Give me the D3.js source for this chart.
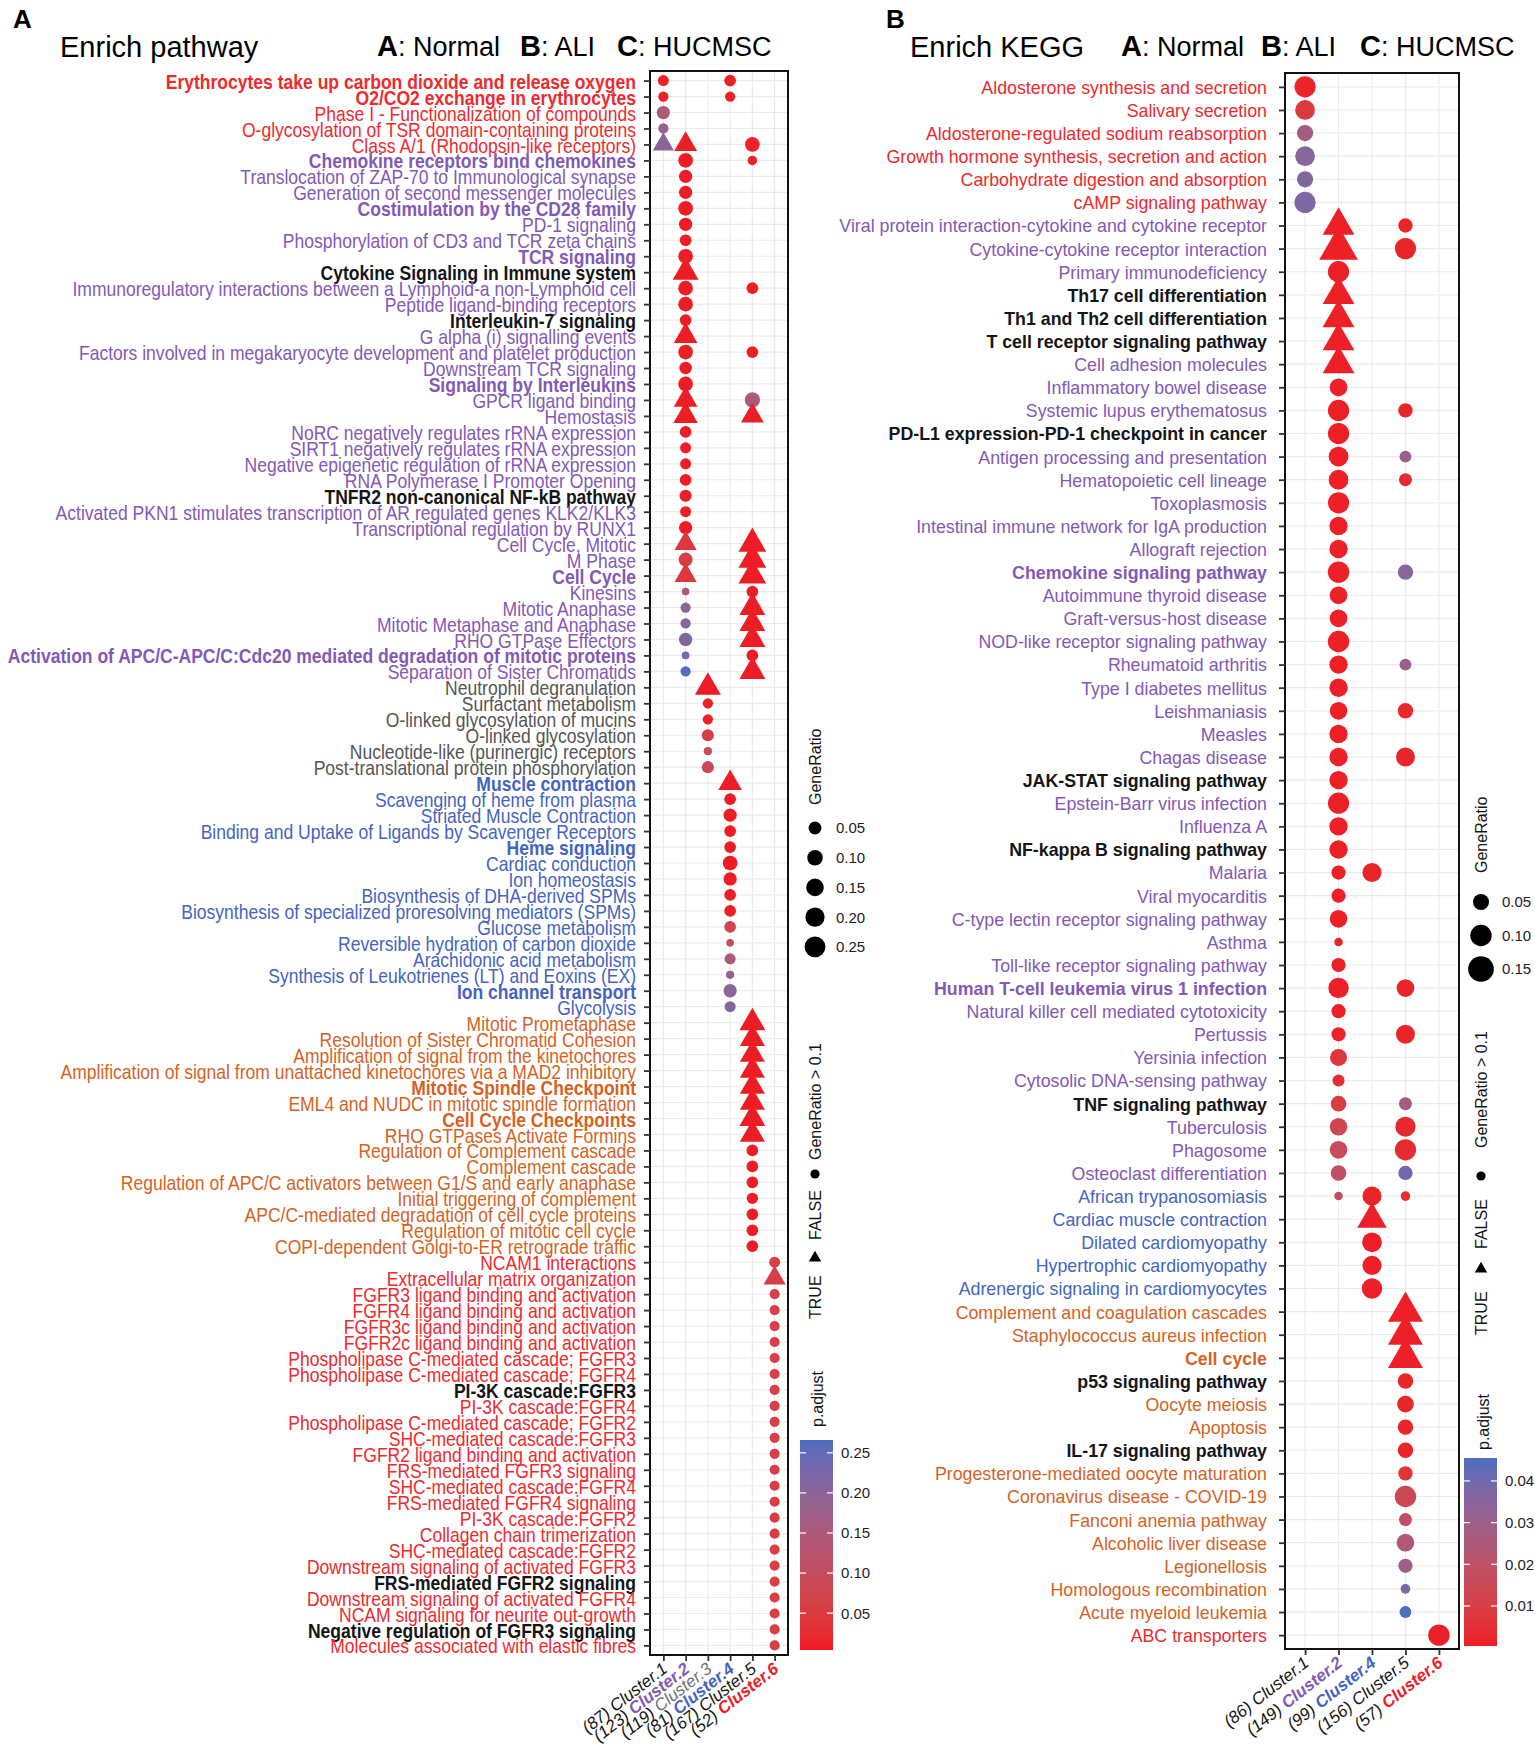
<!DOCTYPE html>
<html>
<head>
<meta charset="utf-8">
<script src="https://cdn.jsdelivr.net/npm/d3@7"></script>
<style>
  body { margin: 0; background: #fff; }
  svg text { font-family: "Liberation Sans", Arial, Helvetica, sans-serif; }
</style>
</head>
<body>
<svg id="chart" width="1535" height="1752"></svg>
<script>
// ---------- data: panel A (Reactome pathways) ----------
const pathwayTerms = [
  "Erythrocytes take up carbon dioxide and release oxygen",
  "O2/CO2 exchange in erythrocytes",
  "Phase I - Functionalization of compounds",
  "O-glycosylation of TSR domain-containing proteins",
  "Class A/1 (Rhodopsin-like receptors)",
  "Chemokine receptors bind chemokines",
  "Translocation of ZAP-70 to Immunological synapse",
  "Generation of second messenger molecules",
  "Costimulation by the CD28 family",
  "PD-1 signaling",
  "Phosphorylation of CD3 and TCR zeta chains",
  "TCR signaling",
  "Cytokine Signaling in Immune system",
  "Immunoregulatory interactions between a Lymphoid-a non-Lymphoid cell",
  "Peptide ligand-binding receptors",
  "Interleukin-7 signaling",
  "G alpha (i) signalling events",
  "Factors involved in megakaryocyte development and platelet production",
  "Downstream TCR signaling",
  "Signaling by Interleukins",
  "GPCR ligand binding",
  "Hemostasis",
  "NoRC negatively regulates rRNA expression",
  "SIRT1 negatively regulates rRNA expression",
  "Negative epigenetic regulation of rRNA expression",
  "RNA Polymerase I Promoter Opening",
  "TNFR2 non-canonical NF-kB pathway",
  "Activated PKN1 stimulates transcription of AR regulated genes KLK2/KLK3",
  "Transcriptional regulation by RUNX1",
  "Cell Cycle, Mitotic",
  "M Phase",
  "Cell Cycle",
  "Kinesins",
  "Mitotic Anaphase",
  "Mitotic Metaphase and Anaphase",
  "RHO GTPase Effectors",
  "Activation of APC/C-APC/C:Cdc20 mediated degradation of mitotic proteins",
  "Separation of Sister Chromatids",
  "Neutrophil degranulation",
  "Surfactant metabolism",
  "O-linked glycosylation of mucins",
  "O-linked glycosylation",
  "Nucleotide-like (purinergic) receptors",
  "Post-translational protein phosphorylation",
  "Muscle contraction",
  "Scavenging of heme from plasma",
  "Striated Muscle Contraction",
  "Binding and Uptake of Ligands by Scavenger Receptors",
  "Heme signaling",
  "Cardiac conduction",
  "Ion homeostasis",
  "Biosynthesis of DHA-derived SPMs",
  "Biosynthesis of specialized proresolving mediators (SPMs)",
  "Glucose metabolism",
  "Reversible hydration of carbon dioxide",
  "Arachidonic acid metabolism",
  "Synthesis of Leukotrienes (LT) and Eoxins (EX)",
  "Ion channel transport",
  "Glycolysis",
  "Mitotic Prometaphase",
  "Resolution of Sister Chromatid Cohesion",
  "Amplification of signal from the kinetochores",
  "Amplification  of signal from unattached  kinetochores via a MAD2  inhibitory",
  "Mitotic Spindle Checkpoint",
  "EML4 and NUDC in mitotic spindle formation",
  "Cell Cycle Checkpoints",
  "RHO GTPases Activate Formins",
  "Regulation of Complement cascade",
  "Complement cascade",
  "Regulation of APC/C activators between G1/S and early anaphase",
  "Initial triggering of complement",
  "APC/C-mediated degradation of cell cycle proteins",
  "Regulation of mitotic cell cycle",
  "COPI-dependent Golgi-to-ER retrograde traffic",
  "NCAM1 interactions",
  "Extracellular matrix organization",
  "FGFR3 ligand binding and activation",
  "FGFR4 ligand binding and activation",
  "FGFR3c ligand binding and activation",
  "FGFR2c ligand binding and activation",
  "Phospholipase C-mediated cascade; FGFR3",
  "Phospholipase C-mediated cascade; FGFR4",
  "PI-3K cascade:FGFR3",
  "PI-3K cascade:FGFR4",
  "Phospholipase C-mediated cascade; FGFR2",
  "SHC-mediated cascade:FGFR3",
  "FGFR2 ligand binding and activation",
  "FRS-mediated FGFR3 signaling",
  "SHC-mediated cascade:FGFR4",
  "FRS-mediated FGFR4 signaling",
  "PI-3K cascade:FGFR2",
  "Collagen chain trimerization",
  "SHC-mediated cascade:FGFR2",
  "Downstream signaling of activated FGFR3",
  "FRS-mediated FGFR2 signaling",
  "Downstream signaling of activated FGFR4",
  "NCAM signaling for neurite out-growth",
  "Negative regulation of FGFR3 signaling",
  "Molecules associated with elastic fibres"
];
// cluster a term is specific to (0 = shared)
const pathwayGroup = [
  1,1,1,1,1,
  2,2,2,2,2,2,2,0,2,2,0,2,2,2,2,2,2,2,2,2,2,0,2,2,2,2,2,2,2,2,2,2,2,
  3,3,3,3,3,3,
  4,4,4,4,4,4,4,4,4,4,4,4,4,4,4,
  5,5,5,5,5,5,5,5,5,5,5,5,5,5,5,
  6,6,6,6,6,6,6,6,0,6,6,6,6,6,6,6,6,6,6,6,0,6,6,0,6
];
const pathwayBold = [1,2,6,9,12,13,16,20,27,32,37,45,49,58,64,66,83,95,98];
const pathwayClusters = [1,2,3,4,5,6];
const pathwayCounts = [87,123,119,81,167,52];
// [term row, cluster, GeneRatio, p.adjust]
const pathwayDots = [
  [1,1,0.026,0.010],[1,4,0.034,0.010],
  [2,1,0.018,0.010],[2,4,0.018,0.010],
  [3,1,0.057,0.150],
  [4,1,0.018,0.180],
  [5,1,0.105,0.200],[5,2,0.137,0.008],[5,5,0.083,0.010],
  [6,2,0.083,0.006],[6,5,0.012,0.010],
  [7,2,0.057,0.005],
  [8,2,0.057,0.005],
  [9,2,0.083,0.005],
  [10,2,0.057,0.005],
  [11,2,0.034,0.005],
  [12,2,0.083,0.005],
  [13,2,0.200,0.005],
  [14,2,0.083,0.005],[14,5,0.034,0.008],
  [15,2,0.083,0.005],
  [16,2,0.034,0.005],
  [17,2,0.152,0.005],
  [18,2,0.083,0.005],[18,5,0.034,0.008],
  [19,2,0.045,0.005],
  [20,2,0.083,0.005],
  [21,2,0.152,0.005],[21,5,0.095,0.150],
  [22,2,0.168,0.005],[22,5,0.137,0.008],
  [23,2,0.034,0.005],
  [24,2,0.026,0.005],
  [25,2,0.026,0.005],
  [26,2,0.034,0.005],
  [27,2,0.040,0.005],
  [28,2,0.026,0.005],
  [29,2,0.057,0.005],
  [30,2,0.122,0.045],[30,5,0.245,0.005],
  [31,2,0.070,0.055],[31,5,0.245,0.005],
  [32,2,0.122,0.045],[32,5,0.245,0.005],
  [33,2,0.002,0.150],[33,5,0.034,0.005],
  [34,2,0.018,0.200],[34,5,0.200,0.005],
  [35,2,0.018,0.210],[35,5,0.200,0.005],
  [36,2,0.057,0.210],[36,5,0.200,0.005],
  [37,2,0.002,0.230],[37,5,0.034,0.005],
  [38,2,0.018,0.260],[38,5,0.200,0.005],
  [39,3,0.200,0.005],
  [40,3,0.018,0.008],
  [41,3,0.018,0.010],
  [42,3,0.040,0.060],
  [43,3,0.004,0.090],
  [44,3,0.040,0.090],
  [45,4,0.152,0.005],
  [46,4,0.034,0.005],
  [47,4,0.057,0.005],
  [48,4,0.034,0.005],
  [49,4,0.034,0.005],
  [50,4,0.083,0.005],
  [51,4,0.057,0.005],
  [52,4,0.034,0.005],
  [53,4,0.034,0.005],
  [54,4,0.034,0.080],
  [55,4,0.002,0.100],
  [56,4,0.026,0.150],
  [57,4,0.004,0.190],
  [58,4,0.057,0.200],
  [59,4,0.026,0.210],
  [60,5,0.200,0.005],
  [61,5,0.180,0.005],
  [62,5,0.180,0.005],
  [63,5,0.180,0.005],
  [64,5,0.180,0.005],
  [65,5,0.180,0.005],
  [66,5,0.200,0.005],
  [67,5,0.180,0.005],
  [68,5,0.034,0.005],
  [69,5,0.034,0.005],
  [70,5,0.034,0.005],
  [71,5,0.030,0.005],
  [72,5,0.034,0.005],
  [73,5,0.034,0.005],
  [74,5,0.034,0.005],
  [75,6,0.026,0.060],
  [76,6,0.122,0.060],
  [77,6,0.017,0.060],[78,6,0.017,0.060],[79,6,0.017,0.060],[80,6,0.017,0.060],
  [81,6,0.017,0.060],[82,6,0.017,0.060],[83,6,0.017,0.060],[84,6,0.017,0.060],
  [85,6,0.017,0.060],[86,6,0.017,0.060],[87,6,0.017,0.060],[88,6,0.017,0.060],
  [89,6,0.017,0.060],[90,6,0.017,0.060],[91,6,0.017,0.060],[92,6,0.017,0.060],
  [93,6,0.017,0.060],[94,6,0.017,0.060],[95,6,0.017,0.060],[96,6,0.017,0.060],
  [97,6,0.017,0.060],[98,6,0.017,0.060],[99,6,0.017,0.060]
];
const pathwaySizeBreaks = [0.05,0.10,0.15,0.20,0.25];
const pathwayColorBreaks = [0.05,0.10,0.15,0.20,0.25];

// ---------- data: panel B (KEGG) ----------
const keggTerms = [
  "Aldosterone synthesis and secretion",
  "Salivary secretion",
  "Aldosterone-regulated sodium reabsorption",
  "Growth hormone synthesis, secretion and action",
  "Carbohydrate digestion and absorption",
  "cAMP signaling pathway",
  "Viral protein interaction-cytokine and cytokine receptor",
  "Cytokine-cytokine receptor interaction",
  "Primary immunodeficiency",
  "Th17 cell differentiation",
  "Th1 and Th2 cell differentiation",
  "T cell receptor signaling pathway",
  "Cell adhesion molecules",
  "Inflammatory bowel disease",
  "Systemic lupus erythematosus",
  "PD-L1 expression-PD-1 checkpoint in cancer",
  "Antigen processing and presentation",
  "Hematopoietic cell lineage",
  "Toxoplasmosis",
  "Intestinal immune network for IgA production",
  "Allograft rejection",
  "Chemokine signaling pathway",
  "Autoimmune thyroid disease",
  "Graft-versus-host disease",
  "NOD-like receptor signaling pathway",
  "Rheumatoid arthritis",
  "Type I diabetes mellitus",
  "Leishmaniasis",
  "Measles",
  "Chagas disease",
  "JAK-STAT signaling pathway",
  "Epstein-Barr virus infection",
  "Influenza A",
  "NF-kappa B signaling pathway",
  "Malaria",
  "Viral myocarditis",
  "C-type lectin receptor signaling pathway",
  "Asthma",
  "Toll-like receptor signaling pathway",
  "Human T-cell leukemia virus 1 infection",
  "Natural killer cell mediated cytotoxicity",
  "Pertussis",
  "Yersinia infection",
  "Cytosolic DNA-sensing pathway",
  "TNF signaling pathway",
  "Tuberculosis",
  "Phagosome",
  "Osteoclast differentiation",
  "African trypanosomiasis",
  "Cardiac muscle contraction",
  "Dilated cardiomyopathy",
  "Hypertrophic cardiomyopathy",
  "Adrenergic signaling in cardiomyocytes",
  "Complement and coagulation cascades",
  "Staphylococcus aureus infection",
  "Cell cycle",
  "p53 signaling pathway",
  "Oocyte meiosis",
  "Apoptosis",
  "IL-17 signaling pathway",
  "Progesterone-mediated oocyte maturation",
  "Coronavirus disease - COVID-19",
  "Fanconi anemia pathway",
  "Alcoholic liver disease",
  "Legionellosis",
  "Homologous recombination",
  "Acute myeloid leukemia",
  "ABC transporters"
];
const keggGroup = [
  1,1,1,1,1,1,
  2,2,2,0,0,0,2,2,2,0,2,2,2,2,2,2,2,2,2,2,2,2,2,2,0,2,2,0,2,2,2,2,2,2,2,2,2,2,0,2,2,2,
  4,4,4,4,4,
  5,5,5,0,5,5,0,5,5,5,5,5,5,5,
  6
];
const keggBold = [10,11,12,16,22,31,34,40,45,56,57,60];
const keggClusters = [1,2,4,5,6];
const keggCounts = [86,149,99,156,57];
const keggDots = [
  [1,1,0.098,0.002],
  [2,1,0.083,0.008],
  [3,1,0.052,0.028],
  [4,1,0.083,0.035],
  [5,1,0.052,0.036],
  [6,1,0.098,0.037],
  [7,2,0.125,0.001],[7,5,0.037,0.002],
  [8,2,0.193,0.001],[8,5,0.098,0.002],
  [9,2,0.098,0.001],
  [10,2,0.125,0.001],
  [11,2,0.125,0.001],
  [12,2,0.125,0.001],
  [13,2,0.125,0.001],
  [14,2,0.064,0.001],
  [15,2,0.098,0.001],[15,5,0.037,0.002],
  [16,2,0.098,0.001],
  [17,2,0.083,0.001],[17,5,0.021,0.030],
  [18,2,0.083,0.001],[18,5,0.028,0.004],
  [19,2,0.098,0.001],
  [20,2,0.070,0.001],
  [21,2,0.070,0.001],
  [22,2,0.099,0.001],[22,5,0.045,0.035],
  [23,2,0.064,0.001],
  [24,2,0.064,0.001],
  [25,2,0.100,0.001],
  [26,2,0.070,0.001],[26,5,0.021,0.030],
  [27,2,0.070,0.001],
  [28,2,0.064,0.001],[28,5,0.045,0.003],
  [29,2,0.070,0.001],
  [30,2,0.070,0.001],[30,5,0.075,0.002],
  [31,2,0.070,0.001],
  [32,2,0.098,0.001],
  [33,2,0.070,0.001],
  [34,2,0.070,0.001],
  [35,2,0.036,0.001],[35,4,0.077,0.002],
  [36,2,0.036,0.001],
  [37,2,0.064,0.001],
  [38,2,0.004,0.002],
  [39,2,0.036,0.001],
  [40,2,0.090,0.001],[40,5,0.064,0.002],
  [41,2,0.036,0.001],
  [42,2,0.036,0.002],[42,5,0.075,0.002],
  [43,2,0.058,0.007],
  [44,2,0.022,0.004],
  [45,2,0.046,0.009],[45,5,0.028,0.028],
  [46,2,0.064,0.013],[46,5,0.087,0.003],
  [47,2,0.064,0.016],[47,5,0.098,0.004],
  [48,2,0.046,0.018],[48,5,0.037,0.040],
  [49,2,0.004,0.018],[49,4,0.077,0.002],[49,5,0.009,0.004],
  [50,4,0.105,0.001],
  [51,4,0.083,0.001],
  [52,4,0.077,0.001],
  [53,4,0.090,0.001],
  [54,5,0.154,0.001],
  [55,5,0.154,0.001],
  [56,5,0.154,0.001],
  [57,5,0.045,0.002],
  [58,5,0.055,0.002],
  [59,5,0.045,0.002],
  [60,5,0.045,0.002],
  [61,5,0.037,0.006],
  [62,5,0.100,0.014],
  [63,5,0.028,0.019],
  [64,5,0.064,0.024],
  [65,5,0.037,0.030],
  [66,5,0.009,0.037],
  [67,5,0.021,0.045],
  [68,6,0.100,0.001]
];
const keggSizeBreaks = [0.05,0.10,0.15];
const keggColorBreaks = [0.01,0.02,0.03,0.04];

// ---------- styles ----------
const svg = d3.select("#chart");
const termColor = {0: "#151515", 1: "#EE2A2E", 2: "#8359B5", 3: "#555555", 4: "#4564BF", 5: "#D4631F", 6: "#EE2A2E"};
const clusterStyle = {
  1: {fill: "#151515", weight: "normal"},
  2: {fill: "#8359B5", weight: "bold"},
  3: {fill: "#707070", weight: "normal"},
  4: {fill: "#4564BF", weight: "bold"},
  5: {fill: "#151515", weight: "normal"},
  6: {fill: "#EE2026", weight: "bold"}
};
const LOW = "#ED1C24", HIGH = "#4A6EC0";
const TRI_K = 1.555; // circumradius of a ggplot triangle relative to circle radius

function triPath(R) {
  const hx = R * Math.sqrt(3) / 2;
  return `M0,${-R}L${hx},${R / 2}L${-hx},${R / 2}Z`;
}
function circlePath(r) {
  return d3.symbol(d3.symbolCircle, Math.PI * r * r)();
}

function drawPanel(p) {
  const g = svg.append("g");
  const y = d3.scalePoint().domain(d3.range(p.terms.length)).range([p.top, p.bottom]).padding(0.6);
  const x = d3.scalePoint().domain(p.clusters).range([p.left, p.right]).padding(0.6);

  g.append("rect").attr("x", p.left).attr("y", p.top)
    .attr("width", p.right - p.left).attr("height", p.bottom - p.top).attr("fill", "#fff");
  g.selectAll("line.hg").data(y.domain()).join("line").attr("class", "hg")
    .attr("x1", p.left).attr("x2", p.right).attr("y1", d => y(d)).attr("y2", d => y(d))
    .attr("stroke", "#ebebeb").attr("stroke-width", 1.2);
  g.selectAll("line.vg").data(x.domain()).join("line").attr("class", "vg")
    .attr("y1", p.top).attr("y2", p.bottom).attr("x1", d => x(d)).attr("x2", d => x(d))
    .attr("stroke", "#ebebeb").attr("stroke-width", 1.2);

  g.selectAll("path.mark").data(p.dots).join("path").attr("class", "mark")
    .attr("transform", d => `translate(${x(d[1])},${y(d[0] - 1)})`)
    .attr("d", d => d[2] > 0.1 ? triPath(p.r(d[2]) * TRI_K) : circlePath(p.r(d[2])))
    .attr("fill", d => p.color(d[3]));

  g.append("rect").attr("x", p.left).attr("y", p.top)
    .attr("width", p.right - p.left).attr("height", p.bottom - p.top)
    .attr("fill", "none").attr("stroke", "#111").attr("stroke-width", 2);

  // y axis
  const ya = g.append("g").attr("transform", `translate(${p.left},0)`)
    .call(d3.axisLeft(y).tickSize(6).tickPadding(p.labelGap - 6).tickFormat(i => p.terms[i]));
  ya.select(".domain").remove();
  ya.selectAll(".tick line").attr("stroke", "#333").attr("stroke-width", 1.8);
  ya.selectAll(".tick text")
    .attr("font-family", '"Liberation Sans", Arial, sans-serif')
    .attr("font-size", p.labelSize)
    .attr("x", -p.labelGap / p.labelScaleX)
    .attr("dy", "0.36em")
    .attr("transform", `scale(${p.labelScaleX},1)`)
    .attr("fill", i => termColor[p.group[i]])
    .attr("font-weight", i => p.bold.includes(i + 1) ? "bold" : "normal");

  // x axis
  const xa = g.append("g").attr("transform", `translate(0,${p.bottom})`)
    .call(d3.axisBottom(x).tickSize(6).tickFormat(""));
  xa.select(".domain").remove();
  xa.selectAll(".tick line").attr("stroke", "#333").attr("stroke-width", 1.8);
  p.clusters.forEach((c, i) => {
    const t = g.append("text")
      .attr("transform", `translate(${x(c) + 5},${p.bottom + 16}) rotate(-38)`)
      .attr("text-anchor", "end").attr("font-style", "italic").attr("font-size", 17);
    t.append("tspan").attr("fill", "#151515").text(`(${p.counts[i]}) `);
    t.append("tspan").attr("fill", clusterStyle[c].fill).attr("font-weight", clusterStyle[c].weight)
      .text(`Cluster.${c}`);
  });

  // panel letter and header
  svg.append("text").attr("x", p.letterX).attr("y", 28).attr("font-size", 26)
    .attr("font-weight", "bold").text(p.letter);
  svg.append("text").attr("x", p.titleX).attr("y", 57).attr("font-size", 29).text(p.title);
  [["A", ": Normal"], ["B", ": ALI"], ["C", ": HUCMSC"]].forEach((k, i) => {
    const t = svg.append("text").attr("x", p.keyX[i]).attr("y", 56).attr("font-size", 27);
    t.append("tspan").attr("font-weight", "bold").attr("font-size", 29).text(k[0]);
    t.append("tspan").text(k[1]);
  });
}

function vtext(x, y, str, size) {
  return svg.append("text").attr("transform", `translate(${x},${y}) rotate(-90)`)
    .attr("font-size", size || 16).attr("fill", "#151515").text(str);
}

function drawLegend(p, L) {
  // size legend
  vtext(L.x + 6, L.sizeTitleY, "GeneRatio");
  p.sizeBreaks.forEach((b, i) => {
    const cy = L.sizeY0 + i * L.sizeStep;
    svg.append("path").attr("transform", `translate(${L.x},${cy})`)
      .attr("d", circlePath(p.r(b))).attr("fill", "#000");
    svg.append("text").attr("x", L.x + 21).attr("y", cy).attr("dy", "0.36em")
      .attr("font-size", 15).attr("fill", "#222").text(b.toFixed(2));
  });
  // shape legend
  vtext(L.x + 6, L.shapeTitleY, "GeneRatio > 0.1");
  svg.append("circle").attr("cx", L.x).attr("cy", L.dotY).attr("r", 4.6).attr("fill", "#000");
  vtext(L.x + 6, L.falseY, "FALSE");
  svg.append("path").attr("transform", `translate(${L.x},${L.triY})`).attr("d", triPath(7.2)).attr("fill", "#000");
  vtext(L.x + 6, L.trueY, "TRUE");
  // colour bar
  vtext(L.x + 8, L.pTitleY, "p.adjust");
  const [d0, d1] = p.color.domain();
  const id = "grad" + p.letter;
  const grad = svg.append("defs").append("linearGradient").attr("id", id)
    .attr("x1", 0).attr("y1", 1).attr("x2", 0).attr("y2", 0);
  d3.range(0, 1.0001, 0.05).forEach(t => {
    grad.append("stop").attr("offset", t).attr("stop-color", p.color(d0 + t * (d1 - d0)));
  });
  svg.append("rect").attr("x", L.barX).attr("y", L.barTop).attr("width", L.barW)
    .attr("height", L.barBottom - L.barTop).attr("fill", `url(#${id})`);
  const cs = d3.scaleLinear().domain([d0, d1]).range([L.barBottom, L.barTop]);
  p.colorBreaks.forEach(b => {
    const yy = cs(b);
    svg.append("line").attr("x1", L.barX).attr("x2", L.barX + 6).attr("y1", yy).attr("y2", yy)
      .attr("stroke", "#fff").attr("stroke-width", 1.2);
    svg.append("line").attr("x1", L.barX + L.barW - 6).attr("x2", L.barX + L.barW).attr("y1", yy).attr("y2", yy)
      .attr("stroke", "#fff").attr("stroke-width", 1.2);
    svg.append("text").attr("x", L.barX + L.barW + 8).attr("y", yy).attr("dy", "0.36em")
      .attr("font-size", 15).attr("fill", "#222").text(b.toFixed(2));
  });
}

// ---------- panel A ----------
const sizeA = d3.scalePow().exponent(0.5).domain([0, 0.25]).range([3.2, 10.4]);
const panelA = {
  letter: "A", letterX: 13, title: "Enrich pathway", titleX: 60, keyX: [377, 520, 617],
  terms: pathwayTerms, group: pathwayGroup, bold: pathwayBold,
  clusters: pathwayClusters, counts: pathwayCounts, dots: pathwayDots,
  left: 650, right: 788, top: 71, bottom: 1655,
  labelSize: 21, labelScaleX: 0.835, labelGap: 14,
  r: sizeA,
  color: d3.scaleLinear().domain([0.004, 0.266]).range([LOW, HIGH]).interpolate(d3.interpolateLab),
  sizeBreaks: pathwaySizeBreaks, colorBreaks: pathwayColorBreaks
};
drawPanel(panelA);
drawLegend(panelA, {
  x: 815, sizeTitleY: 805, sizeY0: 828, sizeStep: 29.7,
  shapeTitleY: 1160, dotY: 1174, falseY: 1240, triY: 1258, trueY: 1319,
  pTitleY: 1427, barX: 800, barW: 33, barTop: 1440, barBottom: 1650
});

// ---------- panel B ----------
const areaB = d3.scaleLinear().domain([0, 0.15]).range([14, 165]);
const panelB = {
  letter: "B", letterX: 886, title: "Enrich KEGG", titleX: 910, keyX: [1121, 1261, 1360],
  terms: keggTerms, group: keggGroup, bold: keggBold,
  clusters: keggClusters, counts: keggCounts, dots: keggDots,
  left: 1285, right: 1459, top: 73, bottom: 1649,
  labelSize: 17.8, labelScaleX: 1, labelGap: 18,
  r: g => Math.sqrt(areaB(g)),
  color: d3.scaleLinear().domain([0.0004, 0.0455]).range([LOW, HIGH]).interpolate(d3.interpolateLab),
  sizeBreaks: keggSizeBreaks, colorBreaks: keggColorBreaks
};
drawPanel(panelB);
drawLegend(panelB, {
  x: 1481, sizeTitleY: 873, sizeY0: 902, sizeStep: 33.5,
  shapeTitleY: 1148, dotY: 1176, falseY: 1249, triY: 1269, trueY: 1335,
  pTitleY: 1450, barX: 1464, barW: 33, barTop: 1458, barBottom: 1646
});
</script>
</body>
</html>
